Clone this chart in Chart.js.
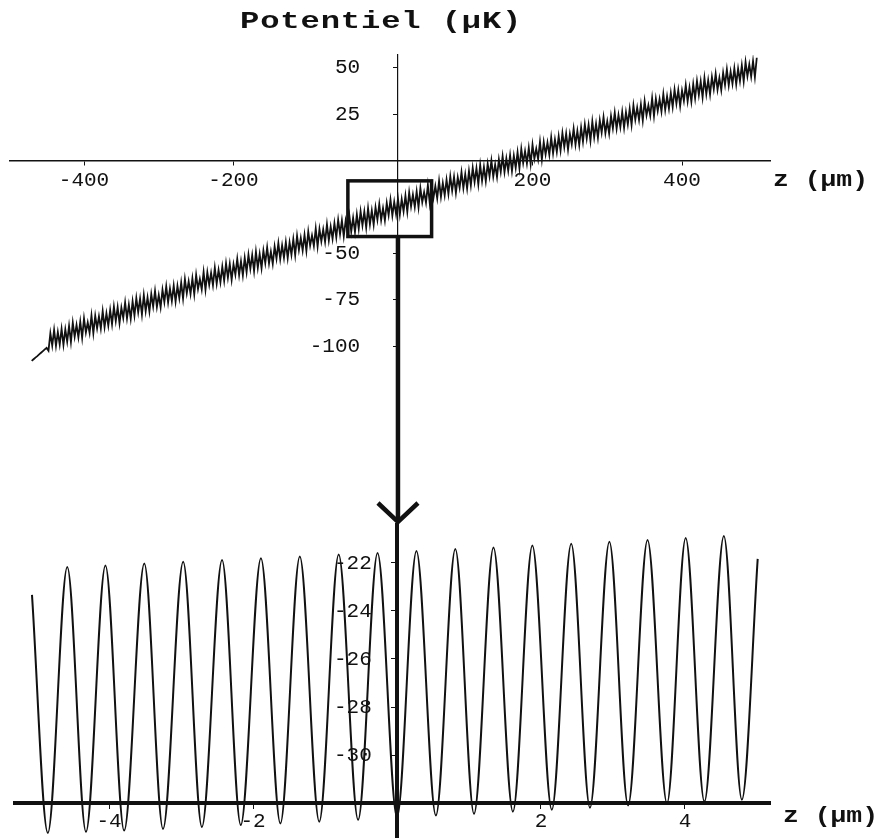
<!DOCTYPE html>
<html>
<head>
<meta charset="utf-8">
<script src="https://cdn.jsdelivr.net/npm/chart.js@4.4.1/dist/chart.umd.min.js"></script>
<style>
  body { margin: 0; background: #fff; }
  #wrap { position: relative; width: 885px; height: 838px; overflow: hidden; }
  canvas { position: absolute; left: 0; }
  #topChart { top: 0; }
  #bottomChart { top: 500px; }
  .lbl { position: absolute; font-family: 'Liberation Mono', 'DejaVu Sans Mono', monospace; font-weight: bold; color: #111; white-space: nowrap; transform-origin: left top; }
</style>
</head>
<body>
<div id="wrap">
  <canvas id="topChart" width="885" height="530"></canvas>
  <canvas id="bottomChart" width="885" height="360"></canvas>
  <div class="lbl" style="left:240px; top:9px; font-size:23px; letter-spacing:0.6px; transform:scaleX(1.4);">Potentiel (µK)</div>
  <div class="lbl" style="left:773px; top:168px; font-size:22px; transform:scaleX(1.2);">z (µm)</div>
  <div class="lbl" style="left:783px; top:804px; font-size:22px; transform:scaleX(1.2);">z (µm)</div>
</div>
<script>
// Potentiel sur toute la longueur (µK), un point tous les 2,5 µm depuis z = -470 µm
const topStart = -470;
const topStep = 2.5;
const potTop = [
  -108, -107.1, -106.2, -105.4, -104.5, -103.6, -102.7, -101.8, -101.0, -102.5,
  -93.1, -99.7, -91.3, -99.9, -92.5, -99.2, -90.8, -99.4, -91.0, -97.6,
  -89.2, -97.8, -87.4, -95.0, -88.6, -95.3, -86.9, -95.5, -85.1, -92.7,
  -87.3, -92.9, -83.5, -93.1, -83.7, -90.4, -84.0, -90.6, -81.2, -89.8,
  -82.4, -89.0, -80.6, -88.2, -78.8, -86.5, -79.1, -87.7, -79.3, -84.9,
  -76.5, -85.1, -77.7, -85.3, -75.9, -83.6, -74.2, -81.8, -74.4, -83.0,
  -72.6, -81.2, -73.8, -81.4, -72.0, -78.7, -70.3, -78.9, -72.5, -79.1,
  -69.7, -76.3, -67.9, -76.5, -69.1, -75.8, -67.4, -76.0, -67.6, -74.2,
  -65.8, -74.4, -64.0, -71.6, -65.2, -71.9, -63.5, -72.1, -61.7, -69.3,
  -63.9, -69.5, -60.1, -69.7, -60.3, -67.0, -60.6, -67.2, -57.8, -66.4,
  -59.0, -65.6, -57.2, -64.8, -55.4, -63.1, -55.7, -64.3, -55.9, -61.5,
  -53.1, -61.7, -54.3, -61.9, -52.5, -60.2, -50.8, -58.4, -51.0, -59.6,
  -49.2, -57.8, -50.4, -58.0, -48.6, -55.3, -46.9, -55.5, -49.1, -55.7,
  -46.3, -52.9, -44.5, -53.1, -45.7, -52.4, -44.0, -52.6, -44.2, -50.8,
  -42.4, -51.0, -40.6, -48.2, -41.8, -48.5, -40.1, -48.7, -38.3, -45.9,
  -40.5, -46.1, -36.7, -46.3, -36.9, -43.6, -37.2, -43.8, -34.4, -43.0,
  -35.6, -42.2, -33.8, -41.4, -32.0, -39.7, -32.3, -40.9, -32.5, -38.1,
  -29.7, -38.3, -30.9, -38.5, -29.1, -36.8, -27.4, -35.0, -27.6, -36.2,
  -25.8, -34.4, -27.0, -34.6, -25.2, -31.9, -23.5, -32.1, -25.7, -32.3,
  -22.9, -29.5, -21.1, -29.7, -22.3, -29.0, -20.6, -29.2, -20.8, -27.4,
  -19.0, -27.6, -17.2, -24.8, -18.4, -25.1, -16.7, -25.3, -14.9, -22.5,
  -17.1, -22.7, -13.3, -22.9, -13.5, -20.2, -13.8, -20.4, -11.0, -19.6,
  -12.2, -18.8, -10.4, -18.0, -8.6, -16.3, -8.9, -17.5, -9.1, -14.7,
  -6.3, -14.9, -7.5, -15.1, -5.7, -13.4, -4.0, -11.6, -4.2, -12.8,
  -2.4, -11.0, -3.6, -11.2, -1.8, -8.5, -0.1, -8.7, -2.3, -8.9,
  0.5, -6.1, 2.3, -6.3, 1.1, -5.6, 2.8, -5.8, 2.6, -4.0,
  4.4, -4.2, 6.2, -1.4, 5.0, -1.7, 6.7, -1.9, 8.5, 0.9,
  6.3, 0.7, 10.1, 0.5, 9.9, 3.3, 9.6, 3.0, 12.4, 3.8,
  11.2, 4.6, 13.0, 5.4, 14.8, 7.2, 14.5, 5.9, 14.3, 8.7,
  17.1, 8.5, 15.9, 8.3, 17.7, 10.1, 19.4, 11.8, 19.2, 10.6,
  21.0, 12.4, 19.8, 12.2, 21.6, 15.0, 23.3, 14.7, 21.1, 14.5,
  23.9, 17.3, 25.7, 17.1, 24.5, 17.9, 26.2, 17.6, 26.0, 19.4,
  27.8, 19.2, 29.6, 22.0, 28.4, 21.8, 30.1, 21.5, 31.9, 24.3,
  29.7, 24.1, 33.5, 23.9, 33.3, 26.7, 33.0, 26.4, 35.8, 27.2,
  34.6, 28.0, 36.4, 28.8, 38.2, 30.6, 37.9, 29.3, 37.7, 32.1,
  40.5, 31.9, 39.3, 31.7, 41.1, 33.5, 42.8, 35.2, 42.6, 34.0,
  44.4, 35.8, 43.2, 35.6, 45.0, 38.4, 46.7, 38.1, 44.5, 37.9,
  47.3, 40.7, 49.1, 40.5, 47.9, 41.3, 49.6, 41.0, 49.4, 42.8,
  51.2, 42.6, 53.0, 45.4, 51.8, 45.2, 53.5, 44.9, 55.3
];
const zTop = potTop.map((v, i) => topStart + i * topStep);
const topXTicks = [-400, -200, 200, 400];
const topYTicks = [50, 25, -50, -75, -100];
const topAxisZ = 20;
// cadre du zoom (µm, µK)
const zoomBox = { zMin: -47, zMax: 65, vMin: -41, vMax: -11 };

// Zoom autour de z = 0 : maxima et minima
const zPeaks = [-4.58, -4.05, -3.51, -2.97, -2.43, -1.89, -1.35, -0.81, -0.27,
                0.27, 0.81, 1.34, 1.88, 2.42, 2.95, 3.48, 4.01, 4.54];
const vPeaks = [-22.17, -22.1, -22.02, -21.95, -21.88, -21.8, -21.73, -21.65, -21.58,
                -21.5, -21.42, -21.35, -21.27, -21.2, -21.12, -21.04, -20.96, -20.88];
const zTroughs = [-4.85, -4.32, -3.79, -3.25, -2.71, -2.17, -1.62, -1.08, -0.54, 0,
                  0.54, 1.07, 1.61, 2.15, 2.68, 3.21, 3.75, 4.27, 4.79];
const vTroughs = [-33.25, -33.2, -33.15, -33.08, -33.0, -32.92, -32.85, -32.78, -32.7, -32.6,
                  -32.52, -32.45, -32.36, -32.28, -32.2, -32.1, -32.02, -31.94, -31.86];
const zEnds = [-5.07, 5.01];
const vEnds = [-23.33, -21.83];
const bottomXTicks = [-4, -2, 2, 4];
const bottomYTicks = [-22, -24, -26, -28, -30];
const bottomAxisV = -32;

const mono = "'Liberation Mono', 'DejaVu Sans Mono', monospace";
Chart.defaults.font.family = mono;
Chart.defaults.color = '#111';

function fixedTicks(values) {
  return function(scale) {
    scale.ticks = values.map(v => ({ value: v }));
  };
}

// Fonction pour dessiner le cadre et la flèche vers le zoom
const zoomBoxPlugin = {
  id: 'zoomBox',
  afterDatasetsDraw(chart) {
    const { ctx, scales: { x, y } } = chart;
    const left = x.getPixelForValue(zoomBox.zMin);
    const right = x.getPixelForValue(zoomBox.zMax);
    const top = y.getPixelForValue(zoomBox.vMax);
    const bottom = y.getPixelForValue(zoomBox.vMin);
    const ax = x.getPixelForValue(topAxisZ);
    ctx.save();
    ctx.strokeStyle = '#111';
    ctx.lineWidth = 3.5;
    ctx.strokeRect(left, top, right - left, bottom - top);
    ctx.lineWidth = 4.5;
    ctx.beginPath();
    ctx.moveTo(ax, bottom);
    ctx.lineTo(ax, 521);
    ctx.stroke();
    ctx.beginPath();
    ctx.moveTo(ax - 20, 503);
    ctx.lineTo(ax, 522);
    ctx.lineTo(ax + 20, 503);
    ctx.stroke();
    ctx.restore();
  }
};

new Chart(document.getElementById('topChart'), {
  type: 'line',
  data: {
    datasets: [{
      data: zTop.map((z, i) => ({ x: z, y: potTop[i] })),
      borderColor: '#111',
      borderWidth: 1.8,
      pointRadius: 0,
      tension: 0
    }]
  },
  options: {
    responsive: false,
    animation: false,
    layout: { padding: { left: 10, right: 115, top: 55, bottom: 165 } },
    plugins: { legend: { display: false }, tooltip: { enabled: false } },
    scales: {
      x: {
        type: 'linear', axis: 'x', position: { y: 0 }, min: -499, max: 517.7,
        afterBuildTicks: fixedTicks(topXTicks),
        grid: { drawOnChartArea: false, drawTicks: true, tickLength: 4, color: '#111' },
        border: { display: true, color: '#111', width: 1.5 },
        ticks: { font: { size: 21 }, padding: 3, maxRotation: 0, autoSkip: false }
      },
      y: {
        type: 'linear', axis: 'y', position: { x: topAxisZ }, min: -110.2, max: 56.8,
        afterBuildTicks: fixedTicks(topYTicks),
        grid: { drawOnChartArea: false, drawTicks: true, tickLength: 4, color: '#111' },
        border: { display: true, color: '#111', width: 1.2 },
        ticks: { font: { size: 21 }, autoSkip: false, callback: v => v + '   ' }
      }
    }
  },
  plugins: [zoomBoxPlugin]
});

// Points du zoom, rangés par z croissant
const bottomPoints = []
  .concat(zPeaks.map((z, i) => ({ x: z, y: vPeaks[i] })))
  .concat(zTroughs.map((z, i) => ({ x: z, y: vTroughs[i] })))
  .concat(zEnds.map((z, i) => ({ x: z, y: vEnds[i] })))
  .sort((a, b) => a.x - b.x);

new Chart(document.getElementById('bottomChart'), {
  type: 'line',
  data: {
    datasets: [{
      data: bottomPoints,
      borderColor: '#111',
      borderWidth: 2,
      pointRadius: 0,
      cubicInterpolationMode: 'monotone'
    }]
  },
  options: {
    responsive: false,
    animation: false,
    layout: { padding: { left: 15, right: 115, top: 25, bottom: 22 } },
    plugins: { legend: { display: false }, tooltip: { enabled: false } },
    scales: {
      x: {
        type: 'linear', axis: 'x', position: { y: bottomAxisV }, min: -5.306, max: 5.181,
        afterBuildTicks: fixedTicks(bottomXTicks),
        grid: { drawOnChartArea: false, drawTicks: true, tickLength: 4, color: '#111' },
        border: { display: true, color: '#111', width: 4 },
        ticks: { font: { size: 21 }, padding: 2, maxRotation: 0, autoSkip: false }
      },
      y: {
        type: 'linear', axis: 'y', position: { x: 0 }, min: -33.458, max: -20.417,
        afterBuildTicks: fixedTicks(bottomYTicks),
        grid: { drawOnChartArea: false, drawTicks: true, tickLength: 4, color: '#111' },
        border: { display: true, color: '#111', width: 4 },
        ticks: { font: { size: 21 }, autoSkip: false, callback: v => v + '  ' }
      }
    }
  }
});
</script>
</body>
</html>
